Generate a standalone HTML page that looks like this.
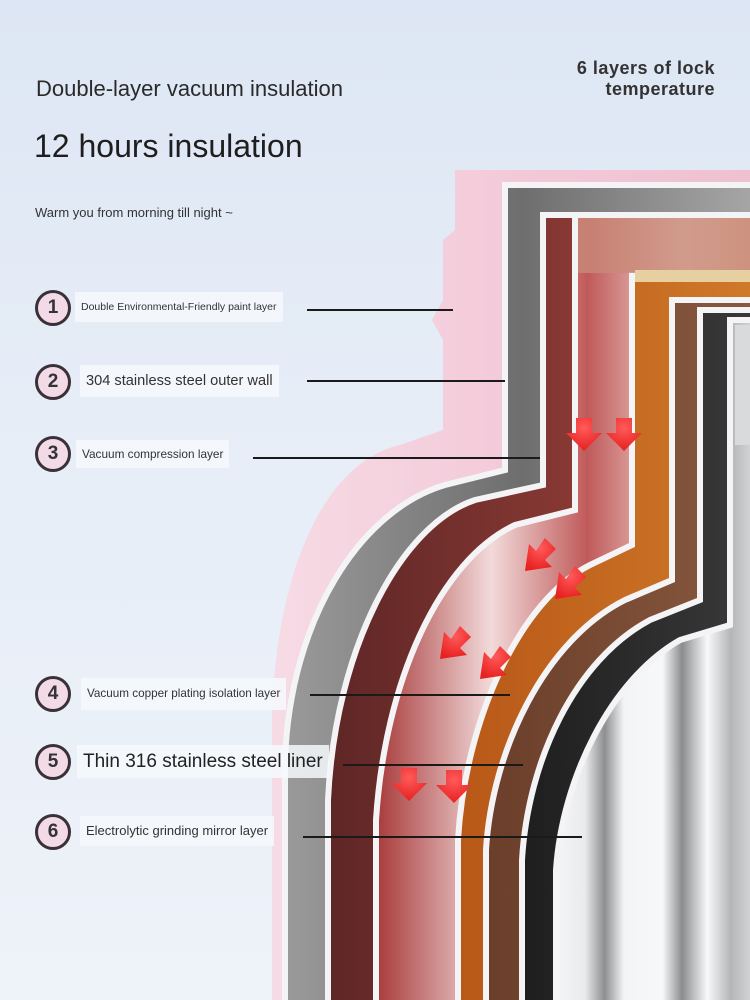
<!DOCTYPE html>
<html><head><meta charset="utf-8"><style>
body{margin:0;width:750px;height:1000px;overflow:hidden;position:relative;font-family:"Liberation Sans",sans-serif;background:linear-gradient(180deg,#dde6f4 0%,#e6edf7 40%,#eef2f9 100%);}
.t{position:absolute;color:#222;white-space:nowrap}
.c{position:absolute;left:35px;width:30px;height:30px;border:3px solid #3a3038;border-radius:50%;background:#f2dbe6;font-weight:bold;font-size:19px;color:#333;text-align:center;line-height:30px}
.lb{position:absolute;background:rgba(246,249,253,.85);color:#333;white-space:nowrap;padding:0 6px}
.ln{position:absolute;height:2px;background:#1a1a1a}
</style></head><body>
<svg width="750" height="1000" style="position:absolute;left:0;top:0">
<defs>
<linearGradient id="pk" x1="0" x2="1"><stop offset="0" stop-color="#f6dbe5"/><stop offset=".5" stop-color="#f3c9d8"/><stop offset="1" stop-color="#eec0d0"/></linearGradient>
<linearGradient id="gr" x1="0" x2="1"><stop offset="0" stop-color="#9a9a9a"/><stop offset=".5" stop-color="#6e6e6e"/><stop offset="1" stop-color="#a8a8a8"/></linearGradient>
<linearGradient id="cu" x1="0" x2="1"><stop offset="0" stop-color="#5e2626"/><stop offset=".6" stop-color="#8a3a34"/><stop offset="1" stop-color="#b0584a"/></linearGradient>
<linearGradient id="rd" x1="0" x2="1"><stop offset="0" stop-color="#a83a3a"/><stop offset=".3" stop-color="#f2dada"/><stop offset=".55" stop-color="#c05a5a"/><stop offset=".8" stop-color="#f4e2dc"/><stop offset="1" stop-color="#e0b090"/></linearGradient>
<linearGradient id="or" x1="0" x2="1"><stop offset="0" stop-color="#b85818"/><stop offset="1" stop-color="#d07a2a"/></linearGradient>
<linearGradient id="br" x1="0" x2="1"><stop offset="0" stop-color="#6a3e2a"/><stop offset="1" stop-color="#8a5a40"/></linearGradient>
<linearGradient id="bk" x1="0" x2="1"><stop offset="0" stop-color="#1e1e1e"/><stop offset="1" stop-color="#3a3a3a"/></linearGradient>
<linearGradient id="sv" gradientUnits="userSpaceOnUse" x1="556" y1="0" x2="750" y2="0"><stop offset="0" stop-color="#f4f6f8"/><stop offset=".15" stop-color="#e8eaec"/><stop offset=".25" stop-color="#8c8e90"/><stop offset=".35" stop-color="#f2f4f6"/><stop offset=".55" stop-color="#f6f8fa"/><stop offset=".65" stop-color="#8a8c8e"/><stop offset=".78" stop-color="#f8f9fb"/><stop offset=".9" stop-color="#b4b6b8"/><stop offset="1" stop-color="#d0d2d4"/></linearGradient>
<radialGradient id="ar" cx=".5" cy=".3" r=".7"><stop offset="0" stop-color="#ff5a5a"/><stop offset="1" stop-color="#e82020"/></radialGradient>
</defs>
<g stroke="#f4f4f6" stroke-width="6">
<path fill="url(#pk)" stroke="none" d="M455,170 V230 L443,240 V300 L432,320 L443,340 V430 L400,445 C330,460 276,560 272,720 V1000 H760 V170 Z"/>
<path fill="url(#gr)" d="M505,185 V470 L445,485 C360,510 290,620 285,760 V1010 H760 V185 Z"/>
<path fill="url(#cu)" d="M543,215 V485 L475,500 C400,525 335,650 328,800 V1010 H760 V215 Z"/>
<path fill="url(#rd)" d="M575,215 V510 L515,525 C440,560 385,680 376,820 V1010 H760 V215 Z"/>
<path fill="url(#or)" d="M632,275 V545 L590,565 C520,600 465,720 458,840 V1010 H760 V275 Z"/>
<path fill="url(#br)" d="M672,300 V580 L625,600 C545,640 492,750 486,850 V1010 H760 V300 Z"/>
<path fill="url(#bk)" d="M700,310 V600 L650,620 C575,660 528,760 522,860 V1010 H760 V310 Z"/>
<path fill="url(#sv)" d="M730,320 V625 L680,640 C610,680 562,780 556,870 V1010 H760 V320 Z"/>
</g>
<rect x="578" y="218" width="172" height="55" fill="#c88a78" opacity=".8"/>
<rect x="635" y="270" width="115" height="12" fill="#e6cfa0"/>
<rect x="735" y="325" width="15" height="120" fill="#d8dadc"/>
<g fill="url(#ar)">
<path d="M576,418 h16 v15 h10 l-18,18 l-18,-18 h10z"/>
<path d="M616,418 h16 v15 h10 l-18,18 l-18,-18 h10z"/>
<path d="M401,768 h16 v15 h10 l-18,18 l-18,-18 h10z"/>
<path d="M446,770 h16 v15 h10 l-18,18 l-18,-18 h10z"/>
<path d="M545,538 l11,11 l-11,11 l7,7 l-27,4 l4,-27 l7,7z"/>
<path d="M575,566 l11,11 l-11,11 l7,7 l-27,4 l4,-27 l7,7z"/>
<path d="M460,626 l11,11 l-11,11 l7,7 l-27,4 l4,-27 l7,7z"/>
<path d="M500,646 l11,11 l-11,11 l7,7 l-27,4 l4,-27 l7,7z"/>
</g>
</svg>
<div class="t" style="left:36px;top:76px;font-size:22px;color:#2a2a2a">Double-layer vacuum insulation</div>
<div class="t" style="left:34px;top:128px;font-size:32px;color:#1e1e1e">12 hours insulation</div>
<div class="t" style="left:35px;top:205px;font-size:13px;color:#333">Warm you from morning till night ~</div>
<div class="t" style="right:35px;top:58px;font-size:18px;font-weight:bold;color:#333;text-align:right;line-height:21px;letter-spacing:.5px">6 layers of lock<br>temperature</div>

<div class="c" style="top:290px">1</div><div class="lb" style="left:75px;top:292px;height:30px;line-height:30px;font-size:10.5px">Double Environmental-Friendly paint layer</div><div class="ln" style="left:307px;top:309px;width:146px"></div>
<div class="c" style="top:364px">2</div><div class="lb" style="left:80px;top:365px;height:32px;line-height:32px;font-size:14.6px">304 stainless steel outer wall</div><div class="ln" style="left:307px;top:380px;width:198px"></div>
<div class="c" style="top:436px">3</div><div class="lb" style="left:76px;top:440px;height:28px;line-height:28px;font-size:11.8px">Vacuum compression layer</div><div class="ln" style="left:253px;top:457px;width:287px"></div>
<div class="c" style="top:676px">4</div><div class="lb" style="left:81px;top:678px;height:32px;line-height:32px;font-size:11.7px">Vacuum copper plating isolation layer</div><div class="ln" style="left:310px;top:694px;width:200px"></div>
<div class="c" style="top:744px">5</div><div class="lb" style="left:77px;top:745px;height:33px;line-height:33px;font-size:19px;color:#222">Thin 316 stainless steel liner</div><div class="ln" style="left:343px;top:764px;width:180px"></div>
<div class="c" style="top:814px">6</div><div class="lb" style="left:80px;top:816px;height:30px;line-height:30px;font-size:13px">Electrolytic grinding mirror layer</div><div class="ln" style="left:303px;top:836px;width:279px"></div>
</body></html>
